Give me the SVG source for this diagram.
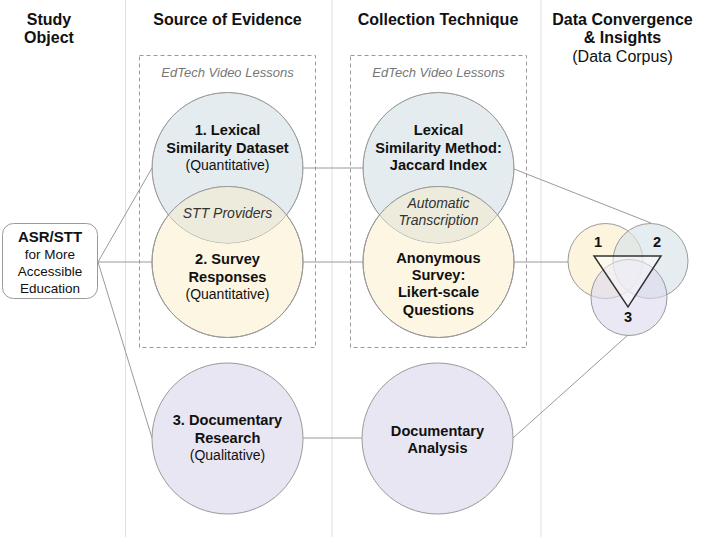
<svg xmlns="http://www.w3.org/2000/svg" width="708" height="537" viewBox="0 0 708 537">
<style>
text{font-family:"Liberation Sans",Arial,sans-serif;fill:#111;text-anchor:middle}
.h{font-size:16px;font-weight:bold}
.b{font-size:14.6px;font-weight:bold}
.n{font-size:14px}
.i{font-size:14px;font-style:italic;fill:#333}
.cap{font-size:13px;font-style:italic;fill:#777}
.col{stroke:#e0e0e0;stroke-width:1}
.box{fill:none;stroke:#9a9a9a;stroke-dasharray:4 3}
.c{stroke:#9a9a9a;stroke-width:1}
.blue{fill:#e4ecef}
.yel{fill:#fdf6e3}
.pur{fill:#e8e6f2}
.ov{fill:#edecdc}
.con{stroke:#9a9a9a;stroke-width:1;fill:none}
</style>
<defs>
<clipPath id="clipL"><circle cx="227.5" cy="168" r="75.5"/></clipPath>
<clipPath id="clipR"><circle cx="438.5" cy="168" r="75.5"/></clipPath>
</defs>
<rect width="708" height="537" fill="#fff"/>
<g id="columns">
<line class="col" x1="125.5" y1="0" x2="125.5" y2="537"/>
<line class="col" x1="332" y1="0" x2="332" y2="537"/>
<line class="col" x1="541" y1="0" x2="541" y2="537"/>
</g>
<g id="headers">
<text class="h" x="49" y="25">Study</text>
<text class="h" x="49" y="43">Object</text>
<text class="h" x="227.5" y="25">Source of Evidence</text>
<text class="h" x="438" y="25">Collection Technique</text>
<text class="h" x="622.5" y="25">Data Convergence</text>
<text class="h" x="622.5" y="43">&amp; Insights</text>
<text x="622.5" y="62" style="font-size:16px">(Data Corpus)</text>
</g>
<g id="group-source">
<rect class="box" x="139.5" y="55.5" width="176" height="292"/>
<text class="cap" x="227.5" y="76.5">EdTech Video Lessons</text>
</g>
<g id="group-technique">
<rect class="box" x="350.5" y="55.5" width="176" height="292"/>
<text class="cap" x="438.5" y="76.5">EdTech Video Lessons</text>
</g>
<g id="connectors">
<line class="con" x1="98" y1="262" x2="152" y2="168"/>
<line class="con" x1="98" y1="262" x2="152" y2="262"/>
<line class="con" x1="98" y1="262" x2="152" y2="438"/>
<line class="con" x1="303" y1="168" x2="363" y2="168"/>
<line class="con" x1="303" y1="262" x2="363" y2="262"/>
<line class="con" x1="303" y1="438" x2="362" y2="438"/>
<line class="con" x1="514" y1="169" x2="651" y2="223"/>
<line class="con" x1="514" y1="262" x2="568" y2="262"/>
<line class="con" x1="513" y1="438" x2="628" y2="335"/>
</g>
<g id="study-object">
<rect x="2.5" y="223.5" width="95" height="75" rx="11" fill="#fff" stroke="#9a9a9a"/>
<text class="b" x="50" y="242" style="font-size:15px">ASR/STT</text>
<text style="font-size:13.5px" x="50" y="259">for More</text>
<text style="font-size:13.5px" x="50" y="276">Accessible</text>
<text style="font-size:13.5px" x="50" y="293">Education</text>
</g>
<g id="lexical-dataset">
<circle class="c blue" cx="227.5" cy="168" r="75.5"/>
<text class="b" x="227.5" y="135">1. Lexical</text>
<text class="b" x="227.5" y="153">Similarity Dataset</text>
<text class="n" x="227.5" y="170">(Quantitative)</text>
</g>
<g id="survey-responses">
<circle class="c yel" cx="227.5" cy="262" r="75.5"/>
<circle class="ov" cx="227.5" cy="262" r="75.5" clip-path="url(#clipL)"/>
<circle cx="227.5" cy="168" r="75.5" fill="none" stroke="#9a9a9a" clip-path="url(#clipL)"/>
<circle cx="227.5" cy="262" r="75.5" fill="none" stroke="#9a9a9a"/>
<text class="i" x="227.5" y="218">STT Providers</text>
<text class="b" x="227.5" y="264">2. Survey</text>
<text class="b" x="227.5" y="282">Responses</text>
<text class="n" x="227.5" y="299">(Quantitative)</text>
</g>
<g id="documentary-research">
<circle class="c pur" cx="227.5" cy="438.5" r="75.5"/>
<text class="b" x="227.5" y="425">3. Documentary</text>
<text class="b" x="227.5" y="443">Research</text>
<text class="n" x="227.5" y="460">(Qualitative)</text>
</g>
<g id="lexical-method">
<circle class="c blue" cx="438.5" cy="168" r="75.5"/>
<text class="b" x="438.5" y="135">Lexical</text>
<text class="b" x="438.5" y="153">Similarity Method:</text>
<text class="b" x="438.5" y="170">Jaccard Index</text>
</g>
<g id="anonymous-survey">
<circle class="c yel" cx="438.5" cy="262" r="75.5"/>
<circle class="ov" cx="438.5" cy="262" r="75.5" clip-path="url(#clipR)"/>
<circle cx="438.5" cy="168" r="75.5" fill="none" stroke="#9a9a9a" clip-path="url(#clipR)"/>
<circle cx="438.5" cy="262" r="75.5" fill="none" stroke="#9a9a9a"/>
<text class="i" x="438.5" y="208">Automatic</text>
<text class="i" x="438.5" y="225">Transcription</text>
<text class="b" x="438.5" y="263">Anonymous</text>
<text class="b" x="438.5" y="280">Survey:</text>
<text class="b" x="438.5" y="297">Likert-scale</text>
<text class="b" x="438.5" y="315">Questions</text>
</g>
<g id="documentary-analysis">
<circle class="c pur" cx="437.5" cy="438.5" r="75.5"/>
<text class="b" x="437.5" y="436">Documentary</text>
<text class="b" x="437.5" y="453">Analysis</text>
</g>
<g id="convergence">
<circle cx="605.5" cy="261" r="37.5" fill="#fdf3da" fill-opacity="0.9" stroke="#9a9a9a"/>
<circle cx="650.5" cy="261" r="37.5" fill="#d8e4e8" fill-opacity="0.65" stroke="#9a9a9a"/>
<circle cx="629" cy="297.5" r="38" fill="#dcd8ec" fill-opacity="0.6" stroke="#9a9a9a"/>
<polygon points="594,256 661,256 628,307" fill="#fff" fill-opacity="0.45" stroke="#333" stroke-width="1.5" stroke-linejoin="miter"/>
<text class="b" x="598" y="247">1</text>
<text class="b" x="657" y="247">2</text>
<text class="b" x="628" y="322">3</text>
</g>
</svg>
